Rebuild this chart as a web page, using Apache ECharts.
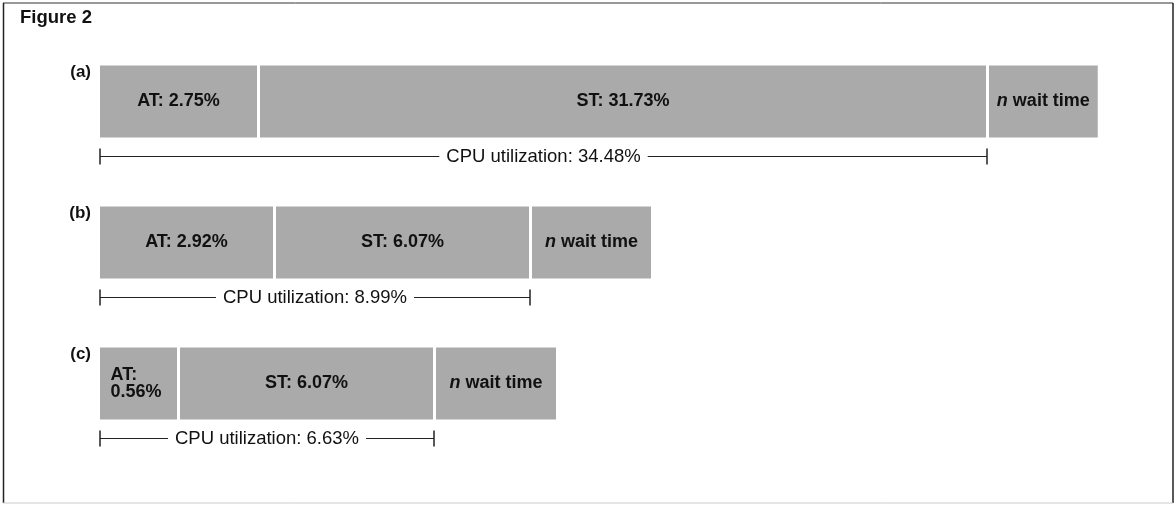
<!DOCTYPE html>
<html>
<head>
<meta charset="utf-8">
<script src="https://cdn.jsdelivr.net/npm/echarts@6/dist/echarts.min.js"></script>
<style>
  html, body { margin: 0; padding: 0; background: #fff; }
  #chart { width: 1176px; height: 505px; }
</style>
</head>
<body>
<div id="chart"></div>
<script>
// ---- data (segment lengths, relative units) ----
const rows = ['(a)', '(b)', '(c)'];
const atLen = [160, 176, 80];
const stLen = [729, 256, 256];
const waitLen = [122, 122, 123];
const atLabels = ['AT: 2.75%', 'AT: 2.92%', 'AT:\n0.56%'];
const stLabels = ['ST: 31.73%', 'ST: 6.07%', 'ST: 6.07%'];
const waitLabels = ['n wait time', 'n wait time', 'n wait time'];
const cpuLabels = ['CPU utilization: 34.48%', 'CPU utilization: 8.99%', 'CPU utilization: 6.63%'];
const titleText = 'Figure 2';

const FONT = '"Liberation Sans", Arial, Helvetica, sans-serif';
const BAR_COLOR = '#aaaaaa';
const LABEL_SIZE = 18;

function barLabel(texts) {
  return {
    show: true,
    position: 'inside',
    color: '#111',
    fontFamily: FONT,
    fontWeight: 'bold',
    fontSize: LABEL_SIZE,
    lineHeight: 17,
    formatter: p => texts[p.dataIndex]
  };
}

const atData = atLen.map((v, i) => {
  const item = { value: v };
  if (atLabels[i].indexOf('\n') >= 0) {
    item.label = { position: 'insideLeft', distance: 12, align: 'left' };
  }
  return item;
});

const chart = echarts.init(document.getElementById('chart'), null, { renderer: 'canvas' });

chart.setOption({
  animation: false,
  backgroundColor: '#fff',
  title: {
    text: titleText,
    left: 15,
    top: 3,
    textStyle: { fontFamily: FONT, fontWeight: 'bold', fontSize: 18.5, color: '#111' }
  },
  graphic: [
    { type: 'line', shape: { x1: 3, y1: 3, x2: 1173, y2: 3 }, style: { stroke: '#333', lineWidth: 1 } },
    { type: 'line', shape: { x1: 3.5, y1: 3, x2: 3.5, y2: 503 }, style: { stroke: '#222', lineWidth: 1.5 } },
    { type: 'line', shape: { x1: 1173, y1: 3, x2: 1173, y2: 503 }, style: { stroke: '#222', lineWidth: 1.5 } },
    { type: 'line', shape: { x1: 3, y1: 503, x2: 1173, y2: 503 }, style: { stroke: '#ccc', lineWidth: 1 } }
  ],
  grid: { left: 98.5, width: 1000, top: 31, height: 423, containLabel: false },
  xAxis: { type: 'value', min: 0, max: 1000, show: false },
  yAxis: { type: 'category', data: rows, inverse: true, show: false },
  series: [
    {
      name: 'AT', type: 'bar', stack: 'total', barWidth: 75,
      itemStyle: { color: BAR_COLOR, borderColor: '#fff', borderWidth: 1.5 },
      label: barLabel(atLabels),
      data: atData
    },
    {
      name: 'ST', type: 'bar', stack: 'total', barWidth: 75,
      itemStyle: { color: BAR_COLOR, borderColor: '#fff', borderWidth: 1.5 },
      label: barLabel(stLabels),
      data: stLen
    },
    {
      name: 'wait', type: 'bar', stack: 'total', barWidth: 75,
      itemStyle: { color: BAR_COLOR, borderColor: '#fff', borderWidth: 1.5 },
      label: Object.assign(barLabel(waitLabels), {
        formatter: p => {
          const t = waitLabels[p.dataIndex];
          const sp = t.indexOf(' ');
          return '{i|' + t.slice(0, sp) + '} {b|' + t.slice(sp + 1) + '}';
        },
        rich: {
          i: { fontFamily: FONT, fontStyle: 'italic', fontWeight: 'bold', fontSize: LABEL_SIZE, color: '#111' },
          b: { fontFamily: FONT, fontWeight: 'bold', fontSize: LABEL_SIZE, color: '#111' }
        }
      }),
      data: waitLen
    },
    {
      name: 'cpu', type: 'custom', clip: false, z: 5,
      encode: { x: 1, y: 0 },
      data: rows.map((r, i) => [i, atLen[i] + stLen[i]]),
      renderItem: function (params, api) {
        const row = api.value(0);
        const start = api.coord([0, row]);
        const end = api.coord([api.value(1), row]);
        const x0 = start[0] + 1.5;
        const x1 = end[0] - 0.5;
        const y = start[1] + 55;
        const lineStyle = { stroke: '#222', lineWidth: 1.2 };
        return {
          type: 'group',
          children: [
            { type: 'line', shape: { x1: x0, y1: y, x2: x1, y2: y }, style: lineStyle },
            { type: 'line', shape: { x1: x0, y1: y - 8, x2: x0, y2: y + 8 }, style: { stroke: '#222', lineWidth: 1.5 } },
            { type: 'line', shape: { x1: x1, y1: y - 8, x2: x1, y2: y + 8 }, style: { stroke: '#222', lineWidth: 1.5 } },
            {
              type: 'text', z2: 10,
              style: {
                text: cpuLabels[row], x: (x0 + x1) / 2, y: y,
                align: 'center', verticalAlign: 'middle',
                fontFamily: FONT, fontSize: 18.5, fill: '#111',
                backgroundColor: '#fff', padding: [2, 7]
              }
            },
            {
              type: 'text',
              style: {
                text: rows[row], x: start[0] - 7.5, y: start[1] - 29,
                align: 'right', verticalAlign: 'middle',
                fontFamily: FONT, fontWeight: 'bold', fontSize: 17, fill: '#111'
              }
            }
          ]
        };
      }
    }
  ]
});
</script>
</body>
</html>
